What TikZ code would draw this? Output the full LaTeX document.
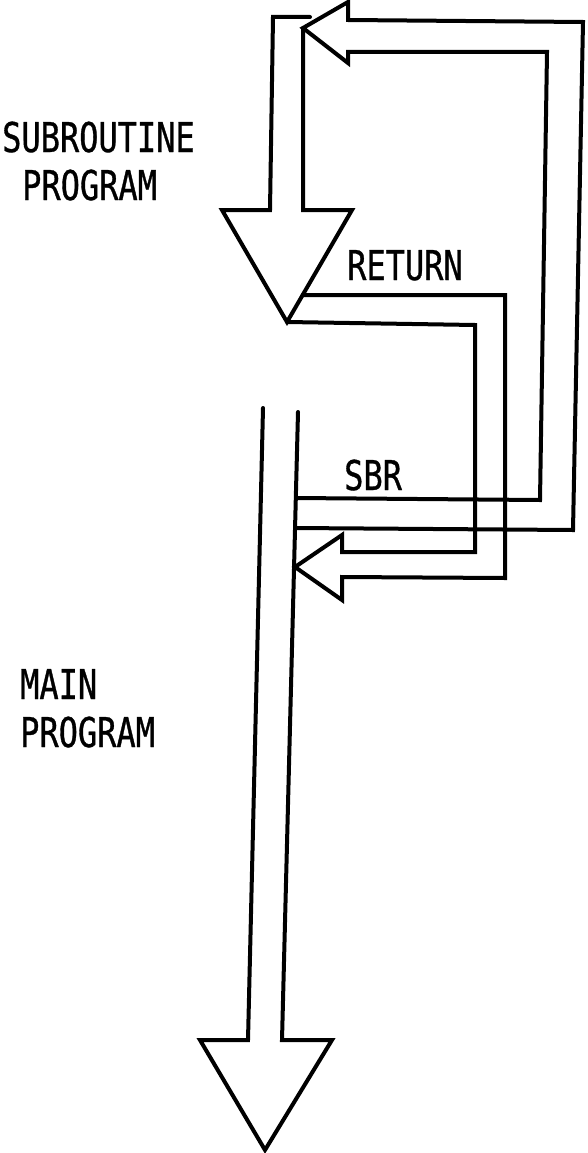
\documentclass[tikz,border=0pt]{standalone}
\usepackage{fontspec}
\newfontfamily\labelfont[FakeStretch=0.78,FakeBold=0.8]{DejaVu Sans Mono}
\usetikzlibrary{calc}

\begin{document}
\begin{tikzpicture}[
    x=1pt, y=-1pt,
    every node/.style={inner sep=0pt, anchor=base west, align=left, font={\labelfont\fontsize{41}{48}\selectfont}},
    outline/.style={draw=black, line width=4pt, line join=miter, line cap=round}
]
\useasboundingbox (0,0) rectangle (588,1153);

% subroutine arrow
\coordinate (subcap) at (310,17);
\coordinate (subtl) at (273,17);
\coordinate (subbl) at (270,210);
\coordinate (subhl) at (222,210);
\coordinate (subtip) at (287,322);
\coordinate (subhr) at (352,210);
\coordinate (subbr) at (303,210);

% SBR loop
\coordinate (sbrin) at (296,498);
\coordinate (sbrinr) at (540,500);
\coordinate (sbrintr) at (547,52);
\coordinate (sbrhin) at (348,52);
\coordinate (sbrhlow) at (348,63);
\coordinate (sbrtip) at (303,28);
\coordinate (sbrhup) at (348,2);
\coordinate (sbrhout) at (348,20);
\coordinate (sbrouttr) at (583,22);
\coordinate (sbroutr) at (573,530);
\coordinate (sbrout) at (295,528);

% return loop
\coordinate (retout) at ($(subtip)!0.24!(subhr)$);
\coordinate (retouttr) at (505,295);
\coordinate (retoutbr) at (505,578);
\coordinate (rethout) at (342,577);
\coordinate (rethlow) at (342,600);
\coordinate (rettip) at (295,567);
\coordinate (rethup) at (342,535);
\coordinate (rethin) at (342,552);
\coordinate (retinbr) at (475,552);
\coordinate (retintr) at (475,325);

% main program arrow
\coordinate (maintl) at (263,408);
\coordinate (mainbl) at (248,1040);
\coordinate (mainhl) at (200,1040);
\coordinate (maintip) at (265,1150);
\coordinate (mainhr) at (332,1040);
\coordinate (mainbr) at (282,1040);
\coordinate (maintr) at (298,412);

\draw[outline] (subcap) -- (subtl) -- (subbl) -- (subhl) -- (subtip) -- (subhr) -- (subbr) -- (sbrtip);
\draw[outline] (sbrin) -- (sbrinr) -- (sbrintr) -- (sbrhin) -- (sbrhlow) -- (sbrtip) -- (sbrhup) -- (sbrhout) -- (sbrouttr) -- (sbroutr) -- (sbrout);
\draw[outline] (retout) -- (retouttr) -- (retoutbr) -- (rethout) -- (rethlow) -- (rettip) -- (rethup) -- (rethin) -- (retinbr) -- (retintr) -- (subtip);
\draw[outline] (maintl) -- (mainbl) -- (mainhl) -- (maintip) -- (mainhr) -- (mainbr) -- (maintr);

% multi-line labels sit on the baseline of their last line
\node (sublabel) at (2,200) {SUBROUTINE\\\hspace*{20pt}PROGRAM};
\node (retlabel) at (347,280) {RETURN};
\node (sbrlabel) at (344,490) {SBR};
\node (mainlabel) at (20,747) {MAIN\\PROGRAM};

\end{tikzpicture}
\end{document}
